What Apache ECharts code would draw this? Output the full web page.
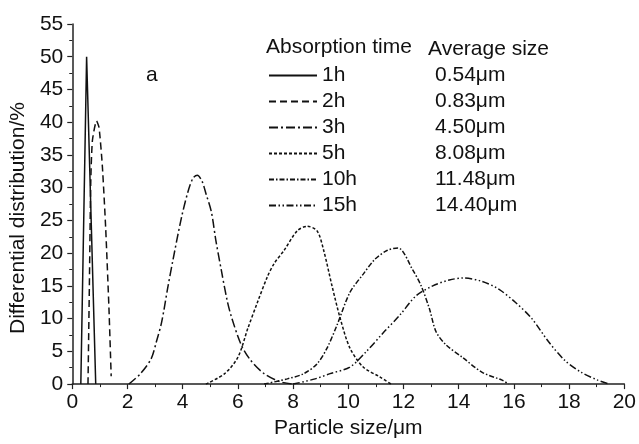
<!DOCTYPE html>
<html>
<head>
<meta charset="utf-8">
<script src="https://cdn.jsdelivr.net/npm/echarts@6/dist/echarts.min.js"></script>
<style>
  html, body { margin: 0; padding: 0; background: #fff; }
  #chart { width: 639px; height: 444px; }
</style>
</head>
<body>
<div id="chart"></div>
<script>
// particle size (µm), differential distribution (%)
var times = ['1h', '2h', '3h', '5h', '10h', '15h']
var avgSizes = ['0.54μm', '0.83μm', '4.50μm', '8.08μm', '11.48μm', '14.40μm']

var dist1h = [[0.31, 0], [0.52, 50], [0.85, 0]]
var dist2h = [[0.57, 0], [0.62, 15], [0.67, 30.8], [0.73, 37.2], [0.88, 40.2], [0.97, 39.2],
  [1.09, 33.3], [1.21, 23.9], [1.33, 11.5], [1.41, 1.2]]
var dist3h = [[2.05, 0], [2.45, 1.5], [2.85, 3.8], [3.05, 6.5], [3.24, 9.5], [3.45, 14.5],
  [3.65, 19], [3.96, 25.5], [4.2, 29.5], [4.38, 31.5], [4.53, 31.9], [4.7, 31], [4.85, 29],
  [5.04, 26.3], [5.2, 22], [5.4, 17.4], [5.6, 13], [5.75, 10.5], [6.11, 6.1], [6.47, 3.6],
  [6.95, 1.6], [7.5, 0.4], [7.96, 0]]
var dist5h = [[4.84, 0], [5.52, 1.6], [6.0, 4.1], [6.36, 8.5], [6.71, 12.5], [7.07, 16.4],
  [7.31, 18.4], [7.67, 20.4], [8.15, 23.4], [8.51, 24.1], [8.87, 23.4], [9.11, 20.4],
  [9.41, 15], [9.71, 10], [10.06, 5.5], [10.54, 2.6], [11.14, 1.1], [11.55, 0]]
var dist10h = [[6.95, 0], [7.79, 0.8], [8.39, 1.6], [8.87, 3.1], [9.23, 5.5], [9.59, 9],
  [10.06, 14], [10.54, 16.8], [10.95, 19], [11.4, 20.4], [11.8, 20.8], [12.34, 17.4],
  [12.64, 15], [12.94, 11.5], [13.18, 8], [13.54, 6], [14.13, 4.1], [14.85, 1.8],
  [15.57, 0.6], [15.81, 0]]
var dist15h = [[8.0, 0], [8.8, 0.8], [9.34, 1.6], [10.06, 2.6], [10.66, 5], [11.26, 7.8],
  [11.86, 10.5], [12.46, 13.5], [13.06, 15], [13.66, 15.9], [14.18, 16.2], [14.84, 15.7],
  [15.45, 14.5], [16.05, 12.5], [16.65, 10], [17.25, 6.5], [17.85, 3.6], [18.44, 1.8],
  [19.04, 0.6], [19.46, 0]]

var allData = [dist1h, dist2h, dist3h, dist5h, dist10h, dist15h]
var dashes = ['solid', [7, 4], [9, 3, 2, 3], [3, 2], [5, 2, 1.5, 2], [7, 2.5, 1.5, 2.5, 1.5, 2.5]]
var smoothness = [0, 0.2, 0.3, 0.3, 0.3, 0.3]

var font = 'Liberation Sans, Arial, sans-serif'
var ink = '#111'

var chart = echarts.init(document.getElementById('chart'))

var series = []
for (var i = 0; i < times.length; i++) {
  series.push({
    name: times[i],
    type: 'line',
    data: allData[i],
    smooth: smoothness[i],
    symbol: 'none',
    lineStyle: { color: ink, width: 1.5, type: dashes[i] },
    itemStyle: { color: ink }
  })
}

chart.setOption({
  animation: false,
  grid: { left: 70, right: 12, top: 24, bottom: 50 },
  legend: {
    orient: 'vertical',
    left: 263,
    top: 60,
    itemWidth: 48,
    itemHeight: 14,
    itemGap: 5,
    data: times,
    itemStyle: { color: 'transparent', borderWidth: 0, opacity: 0 },
    textStyle: {
      color: ink,
      fontFamily: font,
      fontSize: 21,
      lineHeight: 21,
      rich: {
        n: { width: 113, fontSize: 21, fontFamily: font, color: ink },
        v: { fontSize: 21, fontFamily: font, color: ink }
      }
    },
    formatter: function (name) {
      return '{n|' + name + '}{v|' + avgSizes[times.indexOf(name)] + '}'
    }
  },
  graphic: [
    { type: 'text', left: 266, top: 37, style: { text: 'Absorption time', font: '21px ' + font, fill: ink } },
    { type: 'text', left: 428, top: 39, style: { text: 'Average size', font: '21px ' + font, fill: ink } },
    { type: 'text', left: 146, top: 65, style: { text: 'a', font: '21px ' + font, fill: ink } }
  ],
  xAxis: {
    type: 'value',
    min: 0,
    max: 20,
    interval: 2,
    name: 'Particle size/μm',
    nameLocation: 'middle',
    nameGap: 31,
    nameTextStyle: { color: ink, fontSize: 21, fontFamily: font },
    axisLine: { lineStyle: { color: '#222', width: 1.5 } },
    axisTick: { length: 5, lineStyle: { color: '#222', width: 1.2 } },
    minorTick: { show: true, splitNumber: 2, length: 3, lineStyle: { color: '#222', width: 1 } },
    axisLabel: { color: ink, fontSize: 21, fontFamily: font, margin: 8 },
    splitLine: { show: false }
  },
  yAxis: {
    type: 'value',
    min: 0,
    max: 55,
    interval: 5,
    name: 'Differential distribution/%',
    nameLocation: 'middle',
    nameGap: 42,
    nameTextStyle: { color: ink, fontSize: 21, fontFamily: font, padding: [0, 28, 0, 0] },
    axisLine: { show: true, lineStyle: { color: '#222', width: 1.5 } },
    axisTick: { show: true, length: 5, lineStyle: { color: '#222', width: 1.2 } },
    minorTick: { show: true, splitNumber: 2, length: 3, lineStyle: { color: '#222', width: 1 } },
    axisLabel: { color: ink, fontSize: 21, fontFamily: font, margin: 9 },
    splitLine: { show: false }
  },
  series: series
})
</script>
</body>
</html>
